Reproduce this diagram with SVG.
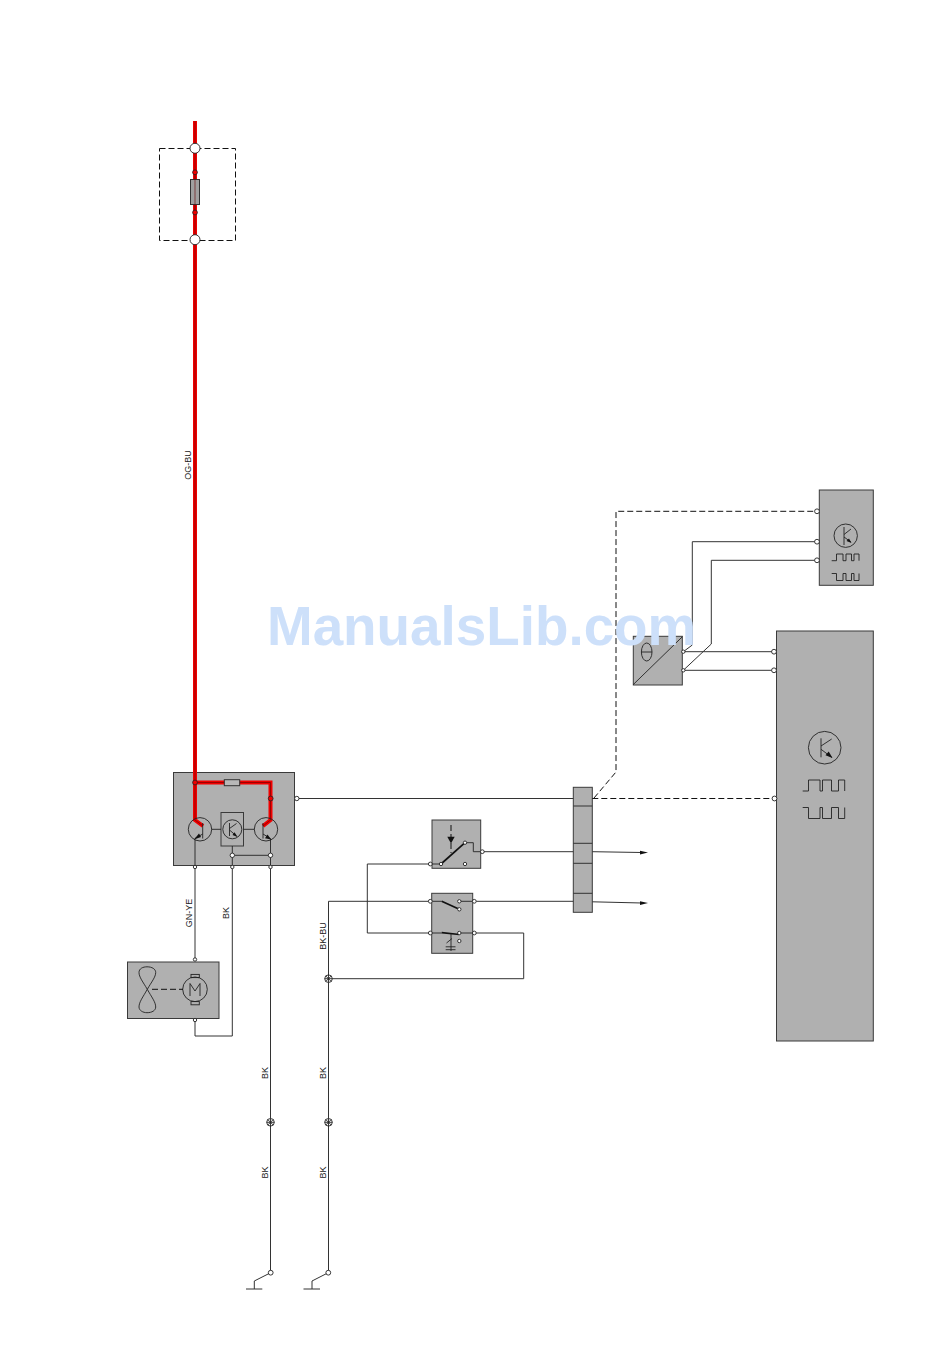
<svg xmlns="http://www.w3.org/2000/svg" width="950" height="1360" viewBox="0 0 950 1360">
<style>
.box{fill:#b0b0b0;stroke:#3a3a3a;stroke-width:1}
.w{fill:none;stroke:#333;stroke-width:1}
.d{fill:none;stroke:#111;stroke-width:1;stroke-dasharray:6 3}
.s{fill:none;stroke:#222;stroke-width:.9}
.th{fill:none;stroke:#111;stroke-width:1.7}
.t{fill:#fff;stroke:#222;stroke-width:.9}
.c{fill:none;stroke:#222;stroke-width:.9}
.rw{fill:none;stroke:#f00000;stroke-width:4}
.rc{fill:none;stroke:#600;stroke-width:.6}
.rt{fill:#f00000;stroke:#222;stroke-width:.8}
.h{fill:#111;stroke:none}
.l{font-family:"Liberation Sans",Arial,sans-serif;font-size:9px;fill:#222;text-anchor:middle}
.wm{font-family:"Liberation Sans",Arial,sans-serif;font-size:54.8px;font-weight:bold;fill:#cde0fa}
</style>
<g id="fuse-box">
<rect x="159.5" y="148.5" width="76" height="92" fill="none" stroke="#111" stroke-dasharray="6 3"/>
</g>
<g id="module-fan-control">
<rect class="box" x="173.5" y="772.5" width="121" height="93"/>
<rect class="box" x="221" y="812.5" width="22.5" height="33.5" stroke-width="1.2"/>
</g>
<g id="fan-motor">
<rect class="box" x="127.5" y="962" width="91.5" height="56.5"/>
<circle class="c" cx="195" cy="989.3" r="12.3"/>
<rect class="c" x="191" y="974.4" width="8.3" height="3.2"/>
<rect class="c" x="191" y="1001.6" width="8.3" height="3.2"/>
<path class="s" d="M190 996V983.5L195 991L200 983.5V996"/>
<path class="c" d="M147.3 989.3C143 982 139 977 139 972.5C139 968.5 143 966.8 147 966.8C152 966.8 155.7 969 155.7 972.5C155.7 977 151.5 982 147.3 989.3C143 997 139 1002 139 1007C139 1010.5 143 1012.7 147 1012.7C152 1012.7 155.7 1010.5 155.7 1007C155.7 1002 151.5 997 147.3 989.3Z"/>
<path class="d" d="M152 989.3H183"/>
</g>
<g id="switch-upper">
<rect class="box" x="432" y="820" width="48.7" height="48.3"/>
</g>
<g id="switch-lower">
<rect class="box" x="431.7" y="893.3" width="41" height="60"/>
</g>
<g id="connector-strip">
<rect class="box" x="573.3" y="787.3" width="19" height="125" stroke="#111"/>
<path class="w" stroke="#111" d="M573.3 806H592.3M573.3 843.3H592.3M573.3 863.3H592.3M573.3 893.3H592.3"/>
</g>
<g id="sensor">
<rect class="box" x="633.3" y="636.3" width="49" height="48.7" stroke-width="1.2"/>
<path class="s" d="M633.3 684.5L682.3 636.8"/>
<ellipse class="c" cx="646.7" cy="652" rx="5.3" ry="9"/>
<path class="s" d="M641.4 652H652"/>
</g>
<g id="module-top-right">
<rect class="box" x="819.3" y="490" width="54" height="95.3"/>
<circle class="c" cx="845.7" cy="535.7" r="11.7"/>
<path class="s" d="M844 527V545M844 534.5L851 529M844 537L851 542"/>
<path class="h" d="M851.5 543L846.5 541L849 538.5Z"/>
<path class="s" d="M831.7 560.7H836.5V554H843V560.7H846V554H851.5V560.7H854V554H859V560.7"/>
<path class="s" d="M831.7 573.5H836.5V580.5H843V573.5H846V580.5H851.5V573.5H854V580.5H859V573.5"/>
</g>
<g id="module-main">
<rect class="box" x="776.5" y="631" width="96.8" height="410"/>
<circle class="c" cx="824.7" cy="747.7" r="16.3"/>
<path class="s" d="M821 738.3V757.3M821 746L831.7 739M821 749.3L832 757.5"/>
<path class="h" d="M832.5 758L825.5 755.3L828.7 751.5Z"/>
<path class="s" d="M802.7 791H808.5V780H820V791H822.5V780H831.5V791H838.5V780H844.7V791"/>
<path class="s" d="M802.7 807.5H808.5V818.5H820V807.5H822.5V818.5H831.5V807.5H838.5V818.5H844.7V807.5"/>
</g>
<g id="connectors">
<path class="w" d="M195 867V960M232.3 867V1036H195V1020M270.5 867V1273"/>
<path class="w" d="M328.5 1273V901.3H430.3"/>
<path class="w" d="M474.3 933H523.7V978.7H328.5"/>
<path class="w" d="M430.3 864H367.3V933H430.3"/>
<path class="w" d="M298.5 798.5H573.3"/>
<path class="w" d="M482.3 851.7H573.3M592.3 851.7L642 852.5"/>
<path class="w" d="M474.3 901.3H573.3M592.3 901.8L642 903"/>
<path class="h" d="M648 852.6L640 850.8V854.4Z"/>
<path class="h" d="M648 903.1L640 901.3V904.9Z"/>
<path class="d" d="M592.3 798.5H774"/>
<path class="d" d="M594 798L616 772V511.3H815"/>
<path class="w" d="M815 541.7H692.3V645L683.3 651.7"/>
<path class="w" d="M815 560.3H711.3V644L683.3 670.3"/>
<path class="w" d="M683.3 651.7H772M683.3 670.3H772"/>
<path class="w" d="M270.7 1272.7L254.3 1281V1289M246 1289H262.3"/>
<path class="w" d="M328.3 1272.7L312 1281V1289M303.5 1289H320"/>
</g>
<g id="power-feed">
<path class="rw" d="M195 121V820L203 826"/>
<path class="rw" d="M195 782.5H270.5V820L263 826"/>
<path class="rc" d="M195 121V820L203 826"/>
<path class="rc" d="M195 782.5H270.5V820L263 826"/>
</g>
<g id="fuse-symbol">
<rect x="190.5" y="179.5" width="9" height="25" fill="#a0a0a0" stroke="#333"/>
<path class="rc" d="M195 172V212"/>
<circle class="rt" cx="195" cy="172.3" r="2.4"/>
<circle class="rt" cx="195" cy="212.5" r="2.4"/>
<circle class="t" cx="195" cy="148.3" r="5"/>
<circle class="t" cx="195" cy="239.7" r="5"/>
</g>
<g id="module-fan-control-symbols">
<rect x="224.3" y="779.7" width="15.4" height="6" fill="#b8b8b8" stroke="#333"/>
<circle class="c" cx="200" cy="829.3" r="11.7"/>
<circle class="c" cx="232.3" cy="829.3" r="9.5"/>
<circle class="c" cx="266" cy="829.3" r="11.7"/>
<path class="s" d="M202.7 823V838.5M263 823V838.5M211.7 829.3H221M243.5 829.3H254.3"/>
<path class="s" d="M202.7 834L195 838.5V867M263 834L270.5 838.5V867"/>
<path class="h" d="M194 839.5L199 833.5L201 837Z"/>
<path class="h" d="M271 839.5L265 838.3L267.5 834.5Z"/>
<path class="s" d="M229.5 823V836M229.5 828.5L236.5 823.5M229.5 830L236.5 836"/>
<path class="h" d="M237.5 837L232.5 835L234.5 832.3Z"/>
<path class="s" d="M232.3 846V867M232.3 855.3H270.5"/>
<circle class="rt" cx="195" cy="782.5" r="2.4"/>
<circle class="rt" cx="270.7" cy="798.5" r="2.4"/>
<circle class="t" cx="232.3" cy="855.3" r="2.2"/>
<circle class="t" cx="270.5" cy="855.3" r="2.2"/>
<circle class="t" cx="195" cy="867" r="1.7"/>
<circle class="t" cx="232.3" cy="867" r="1.7"/>
<circle class="t" cx="270.5" cy="867" r="1.7"/>
<circle class="t" cx="296.8" cy="798.5" r="2.2"/>
<circle class="t" cx="195" cy="959.5" r="1.7"/>
<circle class="t" cx="195" cy="1020" r="1.7"/>
</g>
<g id="switch-symbols">
<path class="s" d="M430.3 864H441M465 842.7H473.3V851.7H482.3"/>
<path class="th" d="M441 864L465 842.7"/>
<path class="d" d="M451 825V853"/>
<path class="h" d="M451 843.5L447.3 836.8H454.7Z"/>
<circle class="t" cx="430.3" cy="864" r="1.9"/>
<circle class="t" cx="441" cy="864" r="1.7"/>
<circle class="t" cx="465" cy="842.7" r="1.7"/>
<circle class="t" cx="465" cy="864" r="1.7"/>
<circle class="t" cx="482.3" cy="851.7" r="1.9"/>
<path class="s" d="M430.3 901.3H441.7M459.3 901.3H474.3M430.3 933H441.7M459.3 933H474.3"/>
<path class="th" d="M441.7 901.3L459.3 909.3M441.7 932.7L459.3 934.5"/>
<path class="s" d="M451 934V951M445.7 946.8H455.5M445.7 949.7H455.5M446.5 943L452 938.5"/>
<circle class="t" cx="430.3" cy="901.3" r="1.9"/>
<circle class="t" cx="459.3" cy="901.3" r="1.7"/>
<circle class="t" cx="459.3" cy="909.3" r="1.7"/>
<circle class="t" cx="474.3" cy="901.3" r="1.9"/>
<circle class="t" cx="430.3" cy="933" r="1.9"/>
<circle class="t" cx="459.3" cy="933" r="1.7"/>
<circle class="t" cx="459.3" cy="941" r="1.7"/>
<circle class="t" cx="474.3" cy="933" r="1.9"/>
</g>
<g id="terminals">
<circle class="t" cx="817" cy="511.3" r="2.4"/>
<circle class="t" cx="817" cy="541.7" r="2.4"/>
<circle class="t" cx="817" cy="560.3" r="2.4"/>
<circle class="t" cx="774" cy="651.7" r="2.4"/>
<circle class="t" cx="774" cy="670.3" r="2.4"/>
<circle class="t" cx="774.5" cy="798.5" r="2.4"/>
<circle class="t" cx="683.3" cy="651.7" r="1.7"/>
<circle class="t" cx="683.3" cy="670.3" r="1.7"/>
<circle class="t" cx="270.7" cy="1272.7" r="2.4"/>
<circle class="t" cx="328.3" cy="1272.7" r="2.4"/>
</g>
<g id="splices">
<g id="splice-1"><circle class="t" cx="270.5" cy="1122.3" r="3.8"/><path class="s" stroke-width="1.3" d="M266.7 1122.3H274.3M270.5 1118.5V1126.1M267.8 1119.6L273.2 1125M273.2 1119.6L267.8 1125"/></g>
<g id="splice-2"><circle class="t" cx="328.5" cy="1122.3" r="3.8"/><path class="s" d="M324.7 1122.3H332.3M328.5 1118.5V1126.1M325.8 1119.6L331.2 1125M331.2 1119.6L325.8 1125"/></g>
<g id="splice-3"><circle class="t" cx="328.5" cy="978.7" r="3.8"/><path class="s" d="M324.7 978.7H332.3M328.5 974.9V982.5M325.8 976L331.2 981.4M331.2 976L325.8 981.4"/></g>
</g>
<g id="labels">
<text class="l" transform="translate(190.7 465) rotate(-90)">OG-BU</text>
<text class="l" transform="translate(191.7 913) rotate(-90)">GN-YE</text>
<text class="l" transform="translate(229 913) rotate(-90)">BK</text>
<text class="l" transform="translate(325.7 936) rotate(-90)">BK-BU</text>
<text class="l" transform="translate(268.2 1073) rotate(-90)">BK</text>
<text class="l" transform="translate(325.7 1073) rotate(-90)">BK</text>
<text class="l" transform="translate(268.2 1172.5) rotate(-90)">BK</text>
<text class="l" transform="translate(325.7 1172.5) rotate(-90)">BK</text>
</g>
<text class="wm" x="267" y="645">ManualsLib.com</text>
</svg>
